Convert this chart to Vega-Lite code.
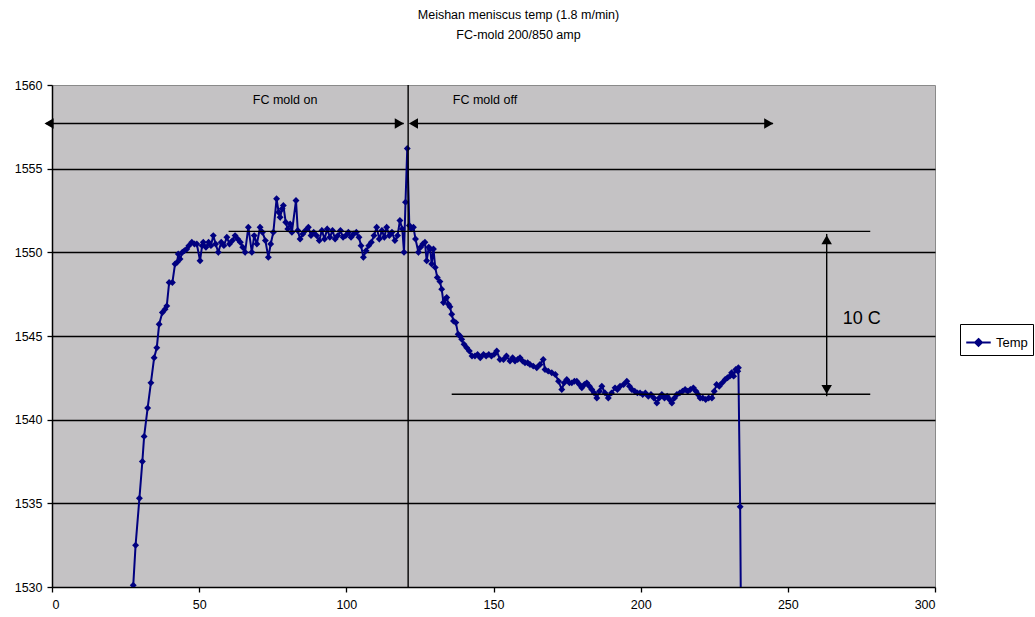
{
  "$schema": "https://vega.github.io/schema/vega-lite/v6.json",
  "width": 883,
  "height": 502,
  "autosize": {"type": "none"},
  "padding": {"left": 52, "top": 85, "right": 100, "bottom": 30},
  "background": "white",
  "title": {
    "text": "Meishan meniscus temp (1.8 m/min)",
    "subtitle": "FC-mold 200/850 amp",
    "anchor": "middle",
    "dx": 25,
    "offset": 38,
    "font": "Liberation Sans",
    "fontSize": 12.5,
    "fontWeight": "normal",
    "color": "black",
    "subtitleFont": "Liberation Sans",
    "subtitleFontSize": 12.5,
    "subtitleColor": "black",
    "subtitlePadding": 7
  },
  "config": {
    "font": "Liberation Sans",
    "view": {"fill": "#c4c2c4", "stroke": "#8a8a8a", "strokeWidth": 1},
    "axis": {
      "domainColor": "black",
      "domainWidth": 1.5,
      "tickColor": "black",
      "tickWidth": 1.3,
      "tickSize": 5,
      "labelFont": "Liberation Sans",
      "labelFontSize": 12.5,
      "labelColor": "black",
      "labelPadding": 5,
      "title": null
    }
  },
  "datasets": {
    "temp": [
      {"x": 27.6, "t": 1530.1}, {"x": 28.4, "t": 1532.5}, {"x": 29.7, "t": 1535.3}, {"x": 30.7, "t": 1537.5},
      {"x": 31.3, "t": 1539.0}, {"x": 32.5, "t": 1540.7}, {"x": 33.6, "t": 1542.2}, {"x": 34.7, "t": 1543.7},
      {"x": 35.6, "t": 1544.3}, {"x": 36.4, "t": 1545.7}, {"x": 37.5, "t": 1546.4}, {"x": 38.4, "t": 1546.6},
      {"x": 39.0, "t": 1546.8}, {"x": 39.8, "t": 1548.2}, {"x": 40.9, "t": 1548.2}, {"x": 41.8, "t": 1549.3},
      {"x": 42.5, "t": 1549.4}, {"x": 42.9, "t": 1549.9}, {"x": 43.5, "t": 1549.6}, {"x": 44.3, "t": 1550.0},
      {"x": 45.0, "t": 1550.1}, {"x": 45.8, "t": 1550.2}, {"x": 46.5, "t": 1550.4}, {"x": 47.5, "t": 1550.6},
      {"x": 48.4, "t": 1550.5}, {"x": 49.2, "t": 1550.5}, {"x": 50.3, "t": 1549.5}, {"x": 51.0, "t": 1550.4},
      {"x": 51.4, "t": 1550.6}, {"x": 52.3, "t": 1550.3}, {"x": 53.2, "t": 1550.6}, {"x": 54.0, "t": 1550.4},
      {"x": 54.8, "t": 1551.0}, {"x": 55.6, "t": 1550.5}, {"x": 56.5, "t": 1550.0}, {"x": 57.5, "t": 1550.6},
      {"x": 58.4, "t": 1550.4}, {"x": 59.4, "t": 1550.9}, {"x": 60.3, "t": 1550.5}, {"x": 61.3, "t": 1550.7},
      {"x": 62.2, "t": 1551.0}, {"x": 63.1, "t": 1550.8}, {"x": 64.0, "t": 1550.6}, {"x": 64.8, "t": 1550.3},
      {"x": 65.6, "t": 1550.0}, {"x": 66.7, "t": 1551.5}, {"x": 67.9, "t": 1550.0}, {"x": 68.7, "t": 1551.0},
      {"x": 69.6, "t": 1550.5}, {"x": 70.7, "t": 1551.5}, {"x": 71.5, "t": 1551.2}, {"x": 72.5, "t": 1550.7},
      {"x": 73.5, "t": 1549.7}, {"x": 74.3, "t": 1550.5}, {"x": 75.2, "t": 1551.2}, {"x": 76.3, "t": 1553.2},
      {"x": 77.0, "t": 1552.4}, {"x": 77.5, "t": 1552.1}, {"x": 78.2, "t": 1552.6}, {"x": 78.6, "t": 1552.8},
      {"x": 79.4, "t": 1551.8}, {"x": 80.1, "t": 1551.4}, {"x": 80.9, "t": 1551.7}, {"x": 81.5, "t": 1551.2},
      {"x": 82.9, "t": 1553.1}, {"x": 83.5, "t": 1551.3}, {"x": 84.3, "t": 1550.8}, {"x": 85.2, "t": 1551.1},
      {"x": 86.1, "t": 1551.3}, {"x": 87.1, "t": 1551.5}, {"x": 88.0, "t": 1551.0}, {"x": 88.9, "t": 1551.2},
      {"x": 89.9, "t": 1551.0}, {"x": 90.8, "t": 1550.7}, {"x": 91.7, "t": 1551.3}, {"x": 92.6, "t": 1550.8},
      {"x": 93.5, "t": 1551.4}, {"x": 94.4, "t": 1550.9}, {"x": 95.3, "t": 1551.3}, {"x": 96.2, "t": 1550.8},
      {"x": 97.1, "t": 1551.0}, {"x": 98.0, "t": 1551.3}, {"x": 98.9, "t": 1550.9}, {"x": 99.8, "t": 1551.0},
      {"x": 100.7, "t": 1551.2}, {"x": 101.6, "t": 1550.9}, {"x": 102.5, "t": 1551.1}, {"x": 103.4, "t": 1551.2},
      {"x": 104.3, "t": 1550.9}, {"x": 105.0, "t": 1550.4}, {"x": 105.8, "t": 1549.7}, {"x": 106.7, "t": 1550.1},
      {"x": 107.6, "t": 1550.4}, {"x": 108.5, "t": 1550.6}, {"x": 109.4, "t": 1551.0}, {"x": 110.3, "t": 1551.5},
      {"x": 111.2, "t": 1550.8}, {"x": 112.1, "t": 1551.3}, {"x": 112.9, "t": 1550.9}, {"x": 113.7, "t": 1551.5},
      {"x": 114.6, "t": 1551.0}, {"x": 115.5, "t": 1551.2}, {"x": 116.5, "t": 1550.7}, {"x": 117.4, "t": 1551.0},
      {"x": 118.2, "t": 1551.9}, {"x": 119.0, "t": 1551.4}, {"x": 119.6, "t": 1550.0}, {"x": 120.1, "t": 1553.0},
      {"x": 120.7, "t": 1556.2}, {"x": 121.4, "t": 1551.6}, {"x": 122.0, "t": 1551.4}, {"x": 122.8, "t": 1551.5},
      {"x": 123.5, "t": 1550.8}, {"x": 124.5, "t": 1550.0}, {"x": 125.2, "t": 1550.3}, {"x": 126.0, "t": 1550.5},
      {"x": 126.7, "t": 1550.6}, {"x": 127.3, "t": 1549.5}, {"x": 128.0, "t": 1550.3}, {"x": 128.5, "t": 1550.2},
      {"x": 129.0, "t": 1549.3}, {"x": 129.6, "t": 1550.2}, {"x": 130.2, "t": 1549.1}, {"x": 130.9, "t": 1548.5},
      {"x": 131.8, "t": 1548.25}, {"x": 132.4, "t": 1547.8}, {"x": 133.0, "t": 1547.0}, {"x": 133.6, "t": 1547.2},
      {"x": 134.1, "t": 1547.3}, {"x": 134.7, "t": 1546.9}, {"x": 135.2, "t": 1546.75}, {"x": 135.8, "t": 1546.3},
      {"x": 136.4, "t": 1545.9}, {"x": 137.2, "t": 1545.8}, {"x": 138.0, "t": 1545.1}, {"x": 138.6, "t": 1545.0},
      {"x": 139.2, "t": 1544.8}, {"x": 140.0, "t": 1544.5}, {"x": 140.9, "t": 1544.3}, {"x": 141.8, "t": 1544.1},
      {"x": 142.7, "t": 1543.8}, {"x": 143.7, "t": 1543.8}, {"x": 144.6, "t": 1543.9}, {"x": 145.5, "t": 1543.7},
      {"x": 146.6, "t": 1543.9}, {"x": 147.5, "t": 1543.8}, {"x": 148.4, "t": 1543.9}, {"x": 149.3, "t": 1543.8},
      {"x": 150.2, "t": 1543.9}, {"x": 151.1, "t": 1544.1}, {"x": 152.2, "t": 1543.6}, {"x": 153.4, "t": 1543.6},
      {"x": 154.4, "t": 1543.8}, {"x": 155.6, "t": 1543.5}, {"x": 156.5, "t": 1543.7}, {"x": 157.3, "t": 1543.5},
      {"x": 158.2, "t": 1543.6}, {"x": 159.0, "t": 1543.7}, {"x": 159.9, "t": 1543.5}, {"x": 160.7, "t": 1543.4},
      {"x": 161.6, "t": 1543.4}, {"x": 162.4, "t": 1543.3}, {"x": 163.5, "t": 1543.2}, {"x": 164.7, "t": 1543.1},
      {"x": 165.8, "t": 1543.3}, {"x": 166.9, "t": 1543.6}, {"x": 167.5, "t": 1543.0}, {"x": 168.6, "t": 1542.9},
      {"x": 169.8, "t": 1542.8}, {"x": 171.0, "t": 1542.7}, {"x": 172.1, "t": 1542.3}, {"x": 173.2, "t": 1541.8},
      {"x": 174.0, "t": 1542.2}, {"x": 174.9, "t": 1542.4}, {"x": 175.8, "t": 1542.2}, {"x": 176.6, "t": 1542.2},
      {"x": 177.5, "t": 1542.3}, {"x": 178.3, "t": 1542.3}, {"x": 179.2, "t": 1542.1}, {"x": 180.0, "t": 1541.9},
      {"x": 180.9, "t": 1542.1}, {"x": 181.7, "t": 1542.2}, {"x": 182.6, "t": 1542.0}, {"x": 183.4, "t": 1541.8},
      {"x": 184.2, "t": 1541.6}, {"x": 185.1, "t": 1541.3}, {"x": 186.0, "t": 1541.7}, {"x": 186.8, "t": 1542.0},
      {"x": 187.9, "t": 1541.6}, {"x": 189.0, "t": 1541.3}, {"x": 190.1, "t": 1541.6}, {"x": 191.3, "t": 1541.9},
      {"x": 192.1, "t": 1541.8}, {"x": 193.0, "t": 1542.0}, {"x": 194.2, "t": 1542.1}, {"x": 195.3, "t": 1542.3},
      {"x": 196.2, "t": 1542.0}, {"x": 197.0, "t": 1541.8}, {"x": 198.0, "t": 1541.7}, {"x": 198.9, "t": 1541.6},
      {"x": 199.8, "t": 1541.6}, {"x": 200.7, "t": 1541.5}, {"x": 201.6, "t": 1541.6}, {"x": 202.6, "t": 1541.4},
      {"x": 203.5, "t": 1541.5}, {"x": 204.5, "t": 1541.3}, {"x": 205.5, "t": 1541.0}, {"x": 206.3, "t": 1541.3},
      {"x": 207.2, "t": 1541.5}, {"x": 208.1, "t": 1541.3}, {"x": 209.0, "t": 1541.4}, {"x": 209.8, "t": 1541.2},
      {"x": 210.6, "t": 1541.0}, {"x": 211.5, "t": 1541.3}, {"x": 212.3, "t": 1541.5}, {"x": 213.3, "t": 1541.6},
      {"x": 214.2, "t": 1541.7}, {"x": 215.1, "t": 1541.8}, {"x": 216.0, "t": 1541.7}, {"x": 216.9, "t": 1541.8},
      {"x": 217.9, "t": 1541.9}, {"x": 218.8, "t": 1541.7}, {"x": 219.5, "t": 1541.5}, {"x": 220.2, "t": 1541.3},
      {"x": 221.1, "t": 1541.3}, {"x": 222.1, "t": 1541.2}, {"x": 223.1, "t": 1541.3}, {"x": 224.2, "t": 1541.3},
      {"x": 225.0, "t": 1541.7}, {"x": 225.8, "t": 1542.1}, {"x": 226.7, "t": 1542.0}, {"x": 227.7, "t": 1542.2},
      {"x": 228.7, "t": 1542.4}, {"x": 229.5, "t": 1542.5}, {"x": 230.3, "t": 1542.6}, {"x": 230.9, "t": 1542.8},
      {"x": 231.6, "t": 1542.6}, {"x": 232.3, "t": 1543.0}, {"x": 233.0, "t": 1542.9}, {"x": 233.2, "t": 1543.1},
      {"x": 233.8, "t": 1534.8}, {"x": 234.2, "t": 1525.0}
    ],
    "lines": [
      {"x": -2, "x2": 119.5, "y": 1557.7, "y2": 1557.7},
      {"x": 122, "x2": 245, "y": 1557.7, "y2": 1557.7},
      {"x": 121, "x2": 121, "y": 1530, "y2": 1560},
      {"x": 60, "x2": 278, "y": 1551.25, "y2": 1551.25},
      {"x": 135.8, "x2": 278, "y": 1541.52, "y2": 1541.52},
      {"x": 263.2, "x2": 263.2, "y": 1551.1, "y2": 1541.4}
    ],
    "heads": [
      {"dir": "left", "x": -1.0, "y": 1557.7},
      {"dir": "right", "x": 118.0, "y": 1557.7},
      {"dir": "left", "x": 122.8, "y": 1557.7},
      {"dir": "right", "x": 243.5, "y": 1557.7},
      {"dir": "up", "x": 263.2, "y": 1550.75},
      {"dir": "down", "x": 263.2, "y": 1541.8}
    ],
    "labels": [
      {"x": 79.2, "y": 1559.1, "text": "FC mold on", "kind": "small"},
      {"x": 147.1, "y": 1559.1, "text": "FC mold off", "kind": "small"},
      {"x": 275.1, "y": 1546.0, "text": "10 C", "kind": "big"}
    ]
  },
  "layer": [
    {
      "data": {"name": "temp"},
      "mark": {"type": "line", "color": "#000080", "strokeWidth": 2, "clip": true},
      "encoding": {
        "x": {"field": "x", "type": "quantitative", "scale": {"domain": [0, 300], "nice": false},
              "axis": {"values": [0, 50, 100, 150, 200, 250, 300], "grid": false, "labelPadding": 6}},
        "y": {"field": "t", "type": "quantitative", "scale": {"domain": [1530, 1560], "zero": false, "nice": false},
              "axis": {"values": [1530, 1535, 1540, 1545, 1550, 1555, 1560], "format": "d", "grid": true, "gridColor": {"condition": {"test": "datum.value === 1560 || datum.value === 1530", "value": "transparent"}, "value": "black"}, "gridWidth": 1.4, "gridOpacity": 1}},
        "color": {"datum": "Temp", "type": "nominal", "scale": {"range": ["#000080"]},
                  "legend": {"title": null, "orient": "none", "legendX": 908, "legendY": 239,
                             "strokeColor": "black", "fillColor": "white", "padding": 5,
                             "symbolType": "M-1,0H1M0,-0.28L0.28,0L0,0.28L-0.28,0Z",
                             "symbolSize": 600, "symbolStrokeWidth": 2,
                             "symbolFillColor": "#000080", "symbolStrokeColor": "#000080",
                             "labelFont": "Liberation Sans", "labelFontSize": 13, "labelColor": "black", "labelOffset": 4}}
      }
    },
    {
      "data": {"name": "temp"},
      "mark": {"type": "point", "shape": "diamond", "filled": true, "size": 48, "opacity": 1, "clip": true},
      "encoding": {
        "x": {"field": "x", "type": "quantitative"},
        "y": {"field": "t", "type": "quantitative"},
        "color": {"datum": "Temp", "type": "nominal"}
      }
    },
    {
      "data": {"name": "lines"},
      "mark": {"type": "rule", "color": "black", "strokeWidth": 1.4},
      "encoding": {
        "x": {"field": "x", "type": "quantitative"},
        "x2": {"field": "x2"},
        "y": {"field": "y", "type": "quantitative"},
        "y2": {"field": "y2"}
      }
    },
    {
      "data": {"name": "heads"},
      "transform": [{"filter": "datum.dir === 'left'"}],
      "mark": {"type": "point", "shape": "triangle-left", "filled": true, "color": "black", "opacity": 1, "size": 110},
      "encoding": {"x": {"field": "x", "type": "quantitative"}, "y": {"field": "y", "type": "quantitative"}}
    },
    {
      "data": {"name": "heads"},
      "transform": [{"filter": "datum.dir === 'right'"}],
      "mark": {"type": "point", "shape": "triangle-right", "filled": true, "color": "black", "opacity": 1, "size": 110},
      "encoding": {"x": {"field": "x", "type": "quantitative"}, "y": {"field": "y", "type": "quantitative"}}
    },
    {
      "data": {"name": "heads"},
      "transform": [{"filter": "datum.dir === 'up'"}],
      "mark": {"type": "point", "shape": "triangle-up", "filled": true, "color": "black", "opacity": 1, "size": 110},
      "encoding": {"x": {"field": "x", "type": "quantitative"}, "y": {"field": "y", "type": "quantitative"}}
    },
    {
      "data": {"name": "heads"},
      "transform": [{"filter": "datum.dir === 'down'"}],
      "mark": {"type": "point", "shape": "triangle-down", "filled": true, "color": "black", "opacity": 1, "size": 110},
      "encoding": {"x": {"field": "x", "type": "quantitative"}, "y": {"field": "y", "type": "quantitative"}}
    },
    {
      "data": {"name": "labels"},
      "transform": [{"filter": "datum.kind === 'small'"}],
      "mark": {"type": "text", "font": "Liberation Sans", "fontSize": 12.5, "color": "black", "align": "center", "baseline": "middle"},
      "encoding": {"x": {"field": "x", "type": "quantitative"}, "y": {"field": "y", "type": "quantitative"}, "text": {"field": "text"}}
    },
    {
      "data": {"name": "labels"},
      "transform": [{"filter": "datum.kind === 'big'"}],
      "mark": {"type": "text", "font": "Liberation Sans", "fontSize": 18, "color": "black", "align": "center", "baseline": "middle"},
      "encoding": {"x": {"field": "x", "type": "quantitative"}, "y": {"field": "y", "type": "quantitative"}, "text": {"field": "text"}}
    }
  ]
}
